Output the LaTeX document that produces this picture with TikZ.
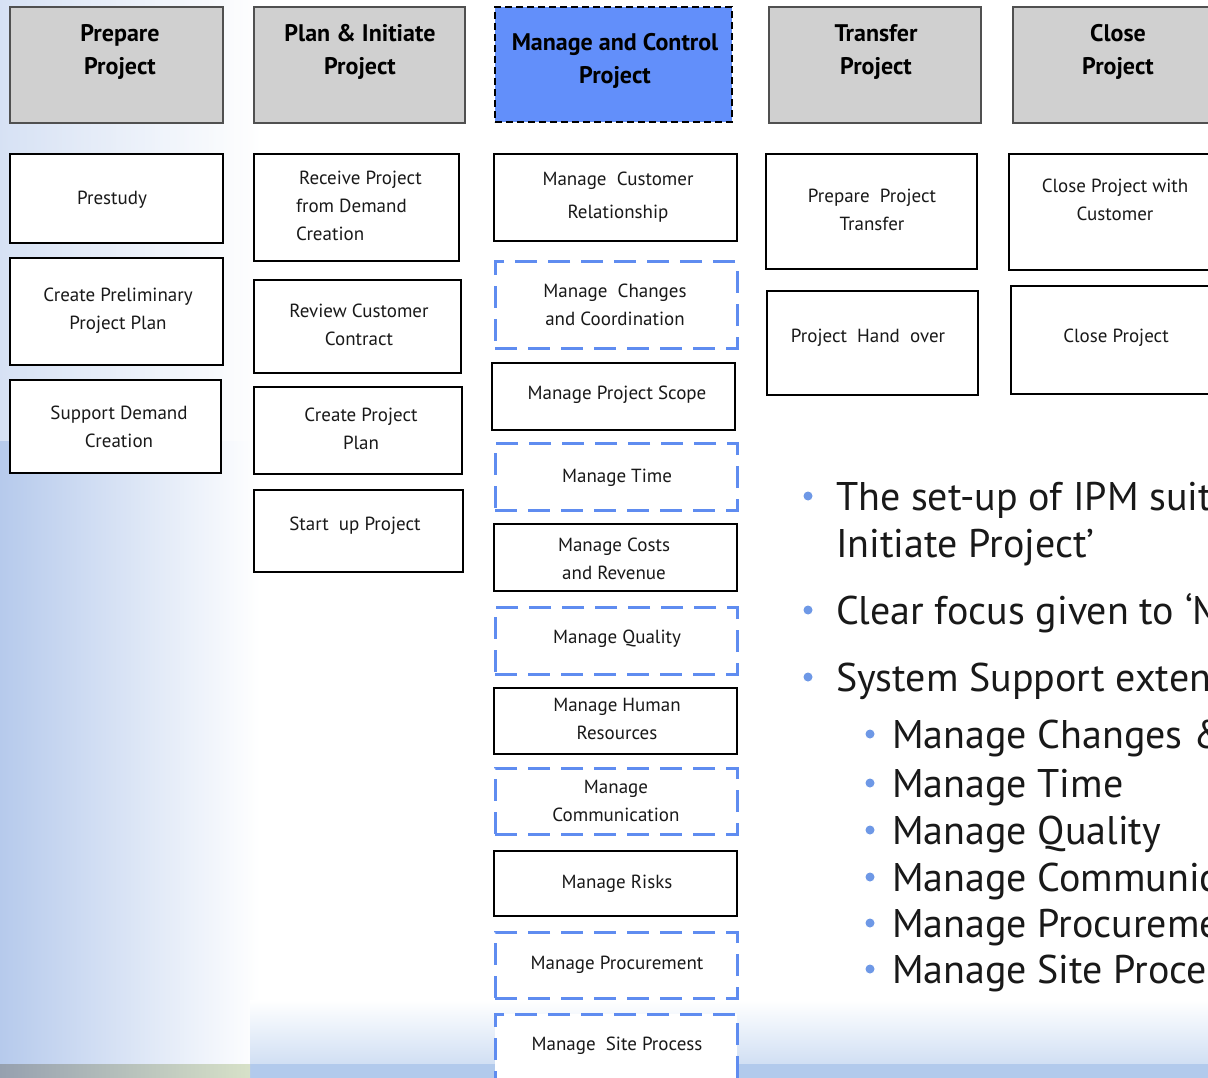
\documentclass[tikz,border=0pt]{standalone}
\usepackage{fontspec}
\setmainfont{PT Sans}
\newfontfamily\boxfont{PT Sans}
\newfontfamily\bulfont{PT Sans}
\definecolor{hdrgray}{RGB}{208,208,208}
\definecolor{hdredge}{RGB}{80,80,80}
\definecolor{mcblue}{RGB}{98,143,250}
\definecolor{dashblue}{RGB}{95,140,240}
\definecolor{bulblue}{RGB}{110,152,230}
\definecolor{bgblue}{RGB}{182,202,236}
\definecolor{stripblue}{RGB}{178,202,236}
\definecolor{stripgrayA}{RGB}{150,160,175}
\definecolor{stripgrayB}{RGB}{215,225,200}
\definecolor{txt}{RGB}{25,25,25}
\begin{document}
\begin{tikzpicture}[x=1pt,y=-1pt,
  every node/.style={inner sep=0pt,outer sep=0pt},
  hdr/.style={draw=hdredge,line width=1.6pt,fill=hdrgray,anchor=north west},
  hdrblue/.style={draw=black,line width=1.6pt,dash pattern=on 7pt off 4pt,fill=mcblue,anchor=north west},
  sbox/.style={draw=black,line width=1.8pt,fill=white,anchor=north west},
  dbox/.style={draw=dashblue,line width=3pt,dash pattern=on 22pt off 11pt,fill=white,anchor=north west},
  hlbl/.style={align=center,font=\boxfont\bfseries\fontsize{24}{33}\selectfont,text=black},
  lbl/.style={align=center,font=\boxfont\fontsize{19}{28}\selectfont,text=txt},
  bul/.style={anchor=base west,font=\bulfont\fontsize{40}{47}\selectfont,text=txt},
  dot/.style={circle,fill=bulblue,minimum size=9pt}
]
\useasboundingbox (0,0) rectangle (1208,1078);
\clip (0,0) rectangle (1208,1078);
% background
\fill[white] (0,0) rectangle (1208,1078);
\shade[left color=bgblue,right color=white] (0,0) rectangle (260,1064);
\shade[top color=white,bottom color=white,middle color=white,opacity=0.45] (0,0) rectangle (260,440);
\shade[top color=white,bottom color=stripblue!60] (250,1000) rectangle (1208,1064);
\fill[stripblue] (250,1064) rectangle (1208,1078);
\shade[left color=stripgrayA,right color=stripgrayB] (0,1064) rectangle (250,1078);

% headers
\node[hdr,minimum width=213pt,minimum height=116pt] (hA) at (10,7) {};
\node[hdr,minimum width=211pt,minimum height=116pt] (hB) at (254,7) {};
\node[hdrblue,minimum width=237pt,minimum height=115pt] (hC) at (495,7) {};
\node[hdr,minimum width=212pt,minimum height=116pt] (hD) at (769,7) {};
\node[hdr,minimum width=202pt,minimum height=116pt] (hE) at (1013,7) {};
\node[hlbl] (hAt) at (120,52) {Prepare\\Project};
\node[hlbl] (hBt) at (360,52) {Plan \& Initiate\\Project};
\node[hlbl] (hCt) at (615,60.5) {Manage and Control\\Project};
\node[hlbl] (hDt) at (876,52) {Transfer\\Project};
\node[hlbl] (hEt) at (1118,52) {Close\\Project};

% column 1
\node[sbox,minimum width=213pt,minimum height=89pt] (a1) at (10,154) {};
\node[sbox,minimum width=213pt,minimum height=107pt] (a2) at (10,258) {};
\node[sbox,minimum width=211pt,minimum height=93pt] (a3) at (10,380) {};
\node[lbl] (a1t) at (112,200) {Prestudy};
\node[lbl] (a2t) at (118,311) {Create Preliminary\\Project Plan};
\node[lbl] (a3t) at (119,427) {Support Demand\\Creation};

% column 2
\node[sbox,minimum width=205pt,minimum height=107pt] (b1) at (254,154) {};
\node[sbox,minimum width=207pt,minimum height=93pt] (b2) at (254,280) {};
\node[sbox,minimum width=208pt,minimum height=87pt] (b3) at (254,387) {};
\node[sbox,minimum width=209pt,minimum height=82pt] (b4) at (254,490) {};
\node[lbl,align=left,anchor=west] (b1t) at (296,206) {\,Receive Project\\from Demand\\Creation};
\node[lbl] (b2t) at (359,325) {Review Customer\\Contract};
\node[lbl] (b3t) at (361,428.5) {Create Project\\Plan};
\node[lbl] (b4t) at (355,526) {Start\ \ up Project};

% column 3
\node[sbox,minimum width=243pt,minimum height=87pt] (c1) at (494,154) {};
\node[dbox,minimum width=242pt,minimum height=86pt] (c2) at (495,262) {};
\node[sbox,minimum width=243pt,minimum height=67pt] (c3) at (492,363) {};
\node[dbox,minimum width=242pt,minimum height=67pt] (c4) at (495,443) {};
\node[sbox,minimum width=243pt,minimum height=67pt] (c5) at (494,524) {};
\node[dbox,minimum width=242pt,minimum height=67pt] (c6) at (495,607) {};
\node[sbox,minimum width=243pt,minimum height=66pt] (c7) at (494,688) {};
\node[dbox,minimum width=242pt,minimum height=66pt] (c8) at (495,768) {};
\node[sbox,minimum width=243pt,minimum height=65pt] (c9) at (494,851) {};
\node[dbox,minimum width=242pt,minimum height=66pt] (c10) at (495,932) {};
\node[dbox,minimum width=242pt,minimum height=86pt] (c11) at (495,1014) {};
\node[lbl,font=\boxfont\fontsize{19}{33}\selectfont] (c1t) at (618,197.5) {Manage\ \ Customer\\Relationship};
\node[lbl] (c2t) at (615,305) {Manage\ \ Changes\\and Coordination};
\node[lbl] (c3t) at (617,395) {Manage Project Scope};
\node[lbl] (c4t) at (617,478) {Manage Time};
\node[lbl] (c5t) at (614,559) {Manage Costs\\and Revenue};
\node[lbl] (c6t) at (617,639) {Manage Quality};
\node[lbl] (c7t) at (617,719) {Manage Human\\Resources};
\node[lbl] (c8t) at (616,801) {Manage\\Communication};
\node[lbl] (c9t) at (617,884) {Manage Risks};
\node[lbl] (c10t) at (617,965) {Manage Procurement};
\node[lbl] (c11t) at (617,1046) {Manage\ \ Site Process};

% column 4
\node[sbox,minimum width=211pt,minimum height=115pt] (d1) at (766,154) {};
\node[sbox,minimum width=211pt,minimum height=104pt] (d2) at (767,291) {};
\node[lbl] (d1t) at (872,210) {Prepare\ \ Project\\Transfer};
\node[lbl] (d2t) at (868,338) {Project\ \ Hand\ \ over};

% column 5
\node[sbox,minimum width=206pt,minimum height=116pt] (e1) at (1009,154) {};
\node[sbox,minimum width=204pt,minimum height=108pt] (e2) at (1011,286) {};
\node[lbl] (e1t) at (1115,200) {Close Project with\\Customer};
\node[lbl] (e2t) at (1116,338) {Close Project};

% bullets
\node[dot] (p1) at (808,496) {};
\node[bul] (t1) at (836,510) {The set-up of IPM suit};
\node[bul] (t1b) at (836,557) {Initiate Project’};
\node[dot] (p2) at (808,610) {};
\node[bul] (t2) at (836,624) {Clear focus given to ‘M};
\node[dot] (p3) at (808,677) {};
\node[bul] (t3) at (836,691) {System Support extend};
\node[dot] (s1) at (870,734) {};
\node[bul] (u1) at (892,748) {Manage Changes \&};
\node[dot] (s2) at (870,783) {};
\node[bul] (u2) at (892,797) {Manage Time};
\node[dot] (s3) at (870,830) {};
\node[bul] (u3) at (892,844) {Manage Quality};
\node[dot] (s4) at (870,877) {};
\node[bul] (u4) at (892,891) {Manage Communic};
\node[dot] (s5) at (870,923) {};
\node[bul] (u5) at (892,937) {Manage Procureme};
\node[dot] (s6) at (870,969) {};
\node[bul] (u6) at (892,983) {Manage Site Proces};
\end{tikzpicture}
\end{document}
